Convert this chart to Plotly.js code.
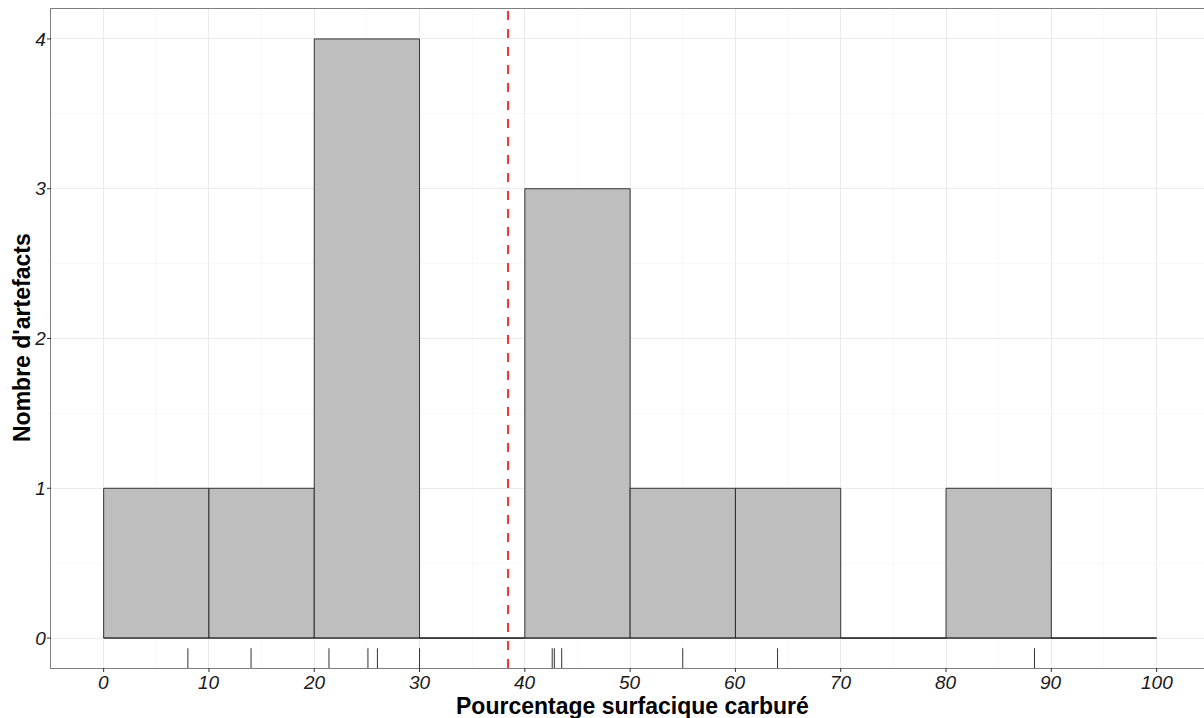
<!DOCTYPE html>
<html>
<head>
<meta charset="utf-8">
<script src="https://cdn.plot.ly/plotly-3.0.1.min.js"></script>
<style>html,body{margin:0;padding:0;background:#fff;}#chart{width:1204px;height:718px;}</style>
</head>
<body>
<div id="chart"></div>
<script>
// Bin centres (bins of width 10 from 0 to 100) and counts
const binCenters = [5, 15, 25, 35, 45, 55, 65, 75, 85, 95];
const binCounts  = [1, 1, 4, 0, 3, 1, 1, 0, 1, 0];
// Individual observations (rug)
const observations = [8, 14, 21.4, 25.1, 26.0, 30.0, 42.6, 42.8, 43.5, 55.0, 64.0, 88.4];
const xTickVals = [0, 10, 20, 30, 40, 50, 60, 70, 80, 90, 100];
const yTickVals = [0, 1, 2, 3, 4];
const xTitle = 'Pourcentage surfacique carburé';
const yTitle = "Nombre d'artefacts";

const meanVal = observations.reduce((a, b) => a + b, 0) / observations.length;

const W = 1204, H = 718;
const M = {l: 51, r: 0, t: 9, b: 50};
const plotW = W - M.l - M.r, plotH = H - M.t - M.b;

const bars = {
  type: 'bar',
  x: binCenters,
  y: binCounts,
  width: 10,
  marker: {color: '#bebebe', line: {color: '#222222', width: 0.9}},
  hoverinfo: 'x+y'
};

// baseline of empty bins (outline at 0 across the binned range)
const baseline = {
  type: 'scatter', mode: 'lines',
  x: [binCenters[0] - 5, binCenters[binCenters.length - 1] + 5],
  y: [0, 0],
  line: {color: '#222222', width: 0.9},
  hoverinfo: 'skip'
};

const shapes = observations.map(v => ({
  type: 'line', xref: 'x', yref: 'paper',
  x0: v, x1: v, y0: 0, y1: 0.03,
  line: {color: '#333333', width: 1}
}));
shapes.push({
  type: 'line', xref: 'x', yref: 'paper',
  x0: meanVal, x1: meanVal, y0: 0, y1: 1,
  line: {color: '#ff0000', width: 1.6, dash: 'dash'}
});
// short outside tick marks
const tl = 4;
xTickVals.forEach(v => shapes.push({
  type: 'line', xref: 'x', yref: 'paper', x0: v, x1: v, y0: 0, y1: -tl / plotH,
  line: {color: '#333333', width: 1}
}));
yTickVals.forEach(v => shapes.push({
  type: 'line', xref: 'paper', yref: 'y', x0: 0, x1: -tl / plotW, y0: v, y1: v,
  line: {color: '#333333', width: 1}
}));

const tickFont = {family: 'Liberation Sans, Arial, sans-serif', size: 19, color: '#1a1a1a', style: 'italic'};
const titleFont = {family: 'Liberation Sans, Arial, sans-serif', size: 23, color: '#000000', weight: 'bold'};

const annotations = xTickVals.map(v => ({
  text: String(v), font: tickFont, showarrow: false, xref: 'x', yref: 'paper',
  x: v, y: -(682 - (H - M.b)) / plotH, xanchor: 'center', yanchor: 'middle', borderpad: 0
}));
annotations.push(
  {text: xTitle, font: titleFont, showarrow: false, xref: 'paper', yref: 'paper', borderpad: 0,
   x: (632 - M.l) / plotW, y: -(706 - (H - M.b)) / plotH, xanchor: 'center', yanchor: 'middle'},
  {text: yTitle, font: titleFont, showarrow: false, xref: 'paper', yref: 'paper', textangle: -90, borderpad: 0,
   x: (22 - M.l) / plotW, y: (H - M.b - 338) / plotH, xanchor: 'center', yanchor: 'middle'}
);

const layout = {
  width: W, height: H,
  margin: M,
  paper_bgcolor: '#ffffff', plot_bgcolor: '#ffffff',
  showlegend: false,
  bargap: 0,
  xaxis: {
    range: [-5, 104.5],
    tickvals: xTickVals,
    showticklabels: false,
    ticks: '',
    showgrid: true, gridcolor: '#ebebeb', gridwidth: 1,
    minor: {dtick: 5, tick0: 0, showgrid: true, gridcolor: '#f4f4f4', gridwidth: 0.6, ticks: ''},
    zeroline: false, automargin: false,
    showline: true, mirror: true, linecolor: '#7f7f7f', linewidth: 1.3
  },
  yaxis: {
    range: [-0.2, 4.2],
    tickvals: yTickVals,
    ticktext: yTickVals.map(String),
    tickfont: tickFont,
    ticks: '',
    showgrid: true, gridcolor: '#ebebeb', gridwidth: 1,
    minor: {dtick: 0.5, tick0: 0, showgrid: true, gridcolor: '#f4f4f4', gridwidth: 0.6, ticks: ''},
    zeroline: false, automargin: false,
    showline: true, mirror: true, linecolor: '#7f7f7f', linewidth: 1.3
  },
  annotations: annotations,
  shapes: shapes
};

Plotly.newPlot('chart', [bars, baseline], layout, {displayModeBar: false, staticPlot: true});
</script>
</body>
</html>
